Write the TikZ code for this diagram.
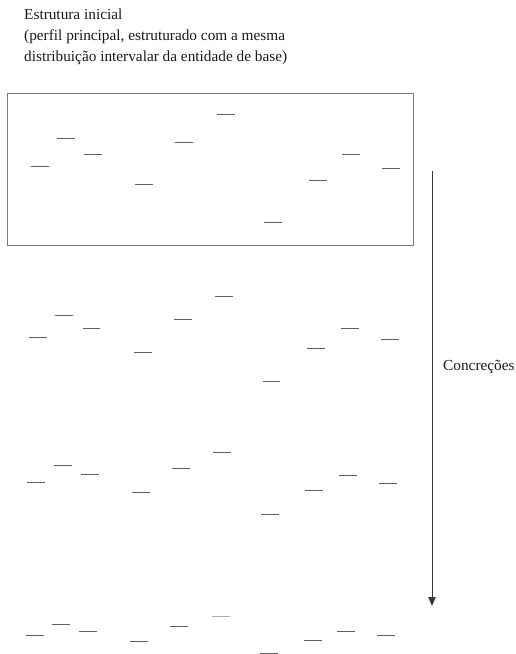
\documentclass[tikz,border=0pt]{standalone}
\usepackage{fontspec}
\setmainfont{Liberation Serif}
\usetikzlibrary{arrows.meta}
\definecolor{segcol}{HTML}{606060}
\definecolor{framecol}{HTML}{7A7A7A}
\definecolor{arrcol}{HTML}{3A3A3A}
\begin{document}
\begin{tikzpicture}[x=1pt,y=-1pt,
  seg/.style={draw=segcol,line width=1.4pt},
  faintseg/.style={draw=segcol!50,line width=1.2pt},
  label/.style={anchor=base west,inner sep=0pt,font=\fontsize{15.3}{18}\selectfont,text=black!90}]
\useasboundingbox (0,0) rectangle (515,654);
\node[label] (title1) at (24,19) {Estrutura inicial};
\node[label] (title2) at (24,40) {(perfil principal, estruturado com a mesma};
\node[label] (title3) at (24,61) {distribuição intervalar da entidade de base)};
\node[draw=framecol,line width=1pt,anchor=north west,inner sep=0pt,minimum width=406pt,minimum height=152pt] (frame) at (7,93) {};
\coordinate (atop) at (432,171);
\coordinate (abot) at (432,606);
\draw[arrcol,line width=1pt,-{Triangle[width=7.5pt,length=9pt]}] (atop) -- (abot);
\node[label] (conc) at (443,370) {Concreções};
% row 1
\foreach \a/\b/\y in {31/49/166.5,57/75/138.5,84/102/154.5,135/153/184.5,175/193/142.5,217/235/114.5,264/282/222.5,309/327/180.5,342/360/154.5,382/400/168.5}
  \draw[seg] (\a,\y) -- (\b,\y);
% row 2
\foreach \a/\b/\y in {29/47/337.5,55/73/315.5,83/100/328.5,134/152/352.5,174/192/319.5,215/233/296.5,263/280/381.5,307/325/348.5,341/359/328.5,381/399/339.5}
  \draw[seg] (\a,\y) -- (\b,\y);
% row 3
\foreach \a/\b/\y in {27/45/482.5,54/72/465.5,81/99/474.5,132/150/492.5,172/190/468.5,213/231/452.5,261/279/514.5,305/323/490.5,339/357/475.5,379/397/483.5}
  \draw[seg] (\a,\y) -- (\b,\y);
% row 4
\foreach \a/\b/\y in {26/44/635.5,52/70/624.5,79/97/631.5,130/148/641.5,170/188/626.5,260/278/653.5,304/322/640.5,337/355/631.5,377/395/635.5}
  \draw[seg] (\a,\y) -- (\b,\y);
\draw[faintseg] (212,616.5) -- (230,616.5);
\end{tikzpicture}
\end{document}
